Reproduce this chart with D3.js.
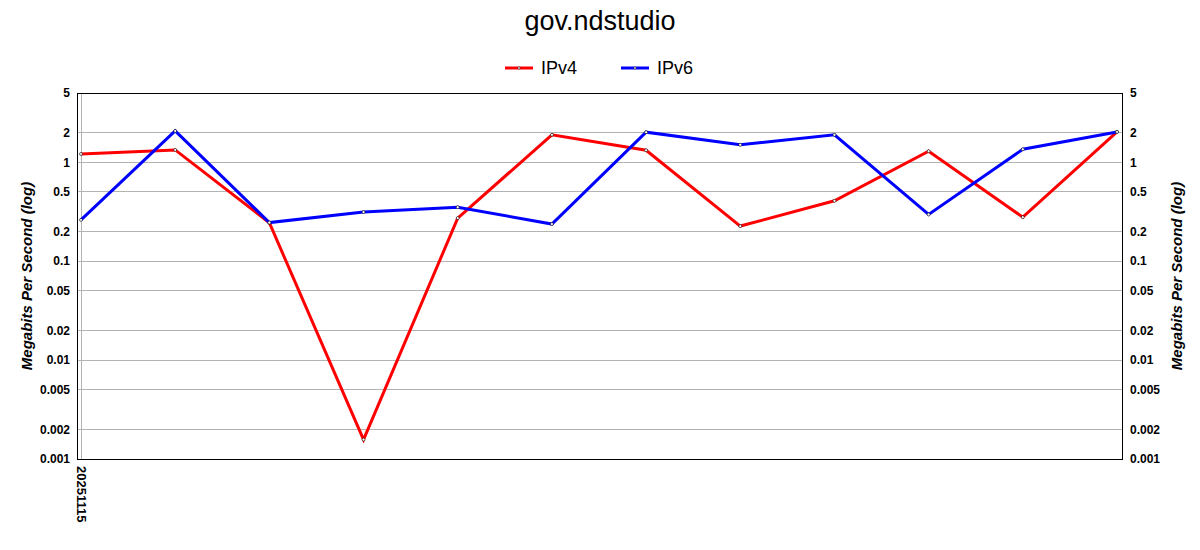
<!DOCTYPE html>
<html><head><meta charset="utf-8">
<script src="https://cdn.jsdelivr.net/npm/d3@7"></script>
<style>body{margin:0;background:#fff;font-family:"Liberation Sans",Arial,sans-serif;}</style>
</head><body><svg id="c" width="1200" height="550"></svg>
<script>
const categories = ["20251115","2","3","4","5","6","7","8","9","10","11","12"];
const categoryLabels = ["20251115","","","","","","","","","","",""];
const ipv4 = [1.21,1.33,0.244,0.00157,0.272,1.89,1.32,0.226,0.407,1.29,0.278,2.02];
const ipv6 = [0.261,2.07,0.245,0.313,0.351,0.237,2.01,1.50,1.89,0.296,1.35,2.02];
const yTicks = [0.001,0.002,0.005,0.01,0.02,0.05,0.1,0.2,0.5,1,2,5];
const yTickLabels = ["0.001","0.002","0.005","0.01","0.02","0.05","0.1","0.2","0.5","1","2","5"];
const seriesNames = ["IPv4","IPv6"];
const seriesColors = ["#ff0000","#0000ff"];

const svg = d3.select("#c");
const L=77,R=1122,T=93,B=459;
const x = d3.scalePoint().domain(categories).range([81,1117]);
const y = d3.scaleLog().domain([0.001,5]).range([B,T]);

// grid
svg.append("g").selectAll("line").data(yTicks).join("line")
  .attr("x1",L).attr("x2",R).attr("y1",d=>y(d)).attr("y2",d=>y(d))
  .attr("stroke","#b3b3b3").attr("stroke-width",1).attr("shape-rendering","crispEdges");
svg.append("line").attr("x1",x(categories[0])).attr("x2",x(categories[0])).attr("y1",T).attr("y2",B)
  .attr("stroke","#b3b3b3").attr("shape-rendering","crispEdges");

// frame
svg.append("rect").attr("x",L).attr("y",T).attr("width",R-L).attr("height",B-T)
  .attr("fill","none").attr("stroke","#000").attr("stroke-width",1).attr("shape-rendering","crispEdges");

// axes
const fmt = d => yTickLabels[yTicks.indexOf(d)];
const la = svg.append("g").attr("transform",`translate(${L},0)`)
  .call(d3.axisLeft(y).tickValues(yTicks).tickFormat(fmt).tickSize(0).tickPadding(7));
const ra = svg.append("g").attr("transform",`translate(${R},0)`)
  .call(d3.axisRight(y).tickValues(yTicks).tickFormat(fmt).tickSize(0).tickPadding(8));
[la,ra].forEach(a=>{a.select(".domain").remove();
  a.selectAll("text").attr("font-size",12).attr("font-weight","bold").attr("fill","#000")
   .attr("font-family","'Liberation Sans',Arial,sans-serif");});

const xa = svg.append("g").attr("transform",`translate(0,${B})`)
  .call(d3.axisBottom(x).tickFormat((d,i)=>categoryLabels[i]).tickSize(0));
xa.select(".domain").remove();
xa.selectAll("text").attr("transform","rotate(90)").attr("text-anchor","start")
  .attr("x",7).attr("y",0).attr("dy","0.35em")
  .attr("font-size",13).attr("font-weight","bold").attr("fill","#000")
  .attr("font-family","'Liberation Sans',Arial,sans-serif");

// axis titles
[[27],[1177]].forEach(([cx])=>{
  svg.append("text").attr("transform",`translate(${cx},${(T+B)/2}) rotate(-90)`)
    .attr("text-anchor","middle").attr("dy","0.35em")
    .attr("font-size",15).attr("font-weight","bold").attr("font-style","italic")
    .text("Megabits Per Second (log)");
});

// title
svg.append("text").attr("x",600).attr("y",30).attr("text-anchor","middle")
  .attr("font-size",27).text("gov.ndstudio");

// series
const data=[ipv4,ipv6];
const line = d3.line().x((d,i)=>x(categories[i])).y(d=>y(d));
data.forEach((s,k)=>{
  svg.append("path").attr("d",line(s)).attr("fill","none")
    .attr("stroke",seriesColors[k]).attr("stroke-width",3).attr("stroke-linejoin","miter");
});
data.forEach((s,k)=>{
  svg.append("g").selectAll("circle").data(s).join("circle")
    .attr("cx",(d,i)=>x(categories[i])).attr("cy",d=>y(d)).attr("r",1.5)
    .attr("fill","#fff").attr("stroke","#000").attr("stroke-width",0.6);
});

// legend
const lx=[505,621];
seriesNames.forEach((n,k)=>{
  svg.append("line").attr("x1",lx[k]).attr("x2",lx[k]+28).attr("y1",68).attr("y2",68)
    .attr("stroke",seriesColors[k]).attr("stroke-width",3);
  svg.append("circle").attr("cx",lx[k]+14).attr("cy",68).attr("r",1.2)
    .attr("fill","#fff").attr("stroke","#000").attr("stroke-width",0.5);
  svg.append("text").attr("x",lx[k]+36).attr("y",68).attr("dy","0.35em")
    .attr("font-size",18).text(n);
});
</script></body></html>
